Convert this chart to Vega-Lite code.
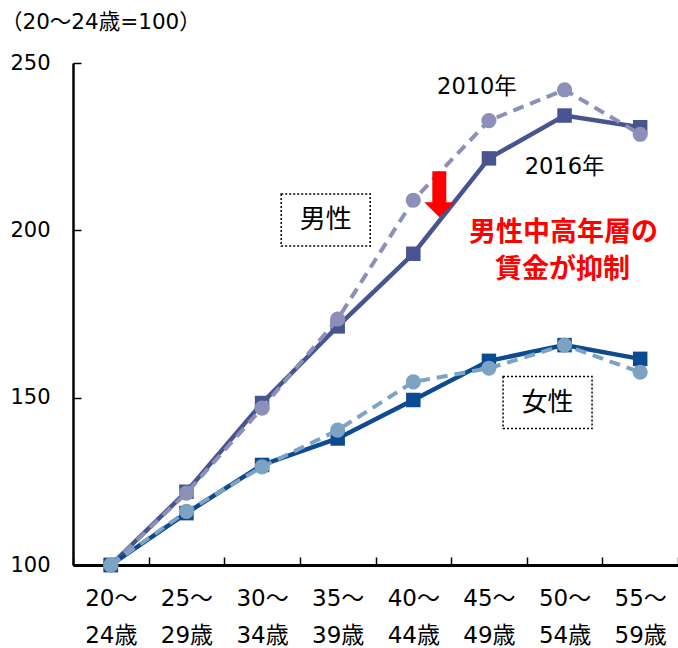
{
  "$schema": "https://vega.github.io/schema/vega-lite/v6.json",
  "width": 605,
  "height": 502,
  "autosize": "none",
  "padding": {"left": 73, "top": 63, "right": 0, "bottom": 83},
  "background": "white",
  "config": {
    "view": {"stroke": null},
    "font": "DejaVu Sans, Noto Sans CJK JP",
    "axis": {"labelColor": "black", "domainColor": "black", "tickColor": "black", "grid": false, "title": null, "labelFont": "DejaVu Sans, Noto Sans CJK JP"},
    "text": {"font": "DejaVu Sans, Noto Sans CJK JP"}
  },
  "title": {
    "text": "（20～24歳=100）",
    "anchor": "start",
    "frame": "group",
    "dx": -72,
    "offset": 19,
    "fontSize": 21.5,
    "fontWeight": "normal",
    "color": "black",
    "font": "DejaVu Sans, Noto Sans CJK JP"
  },
  "data": {
    "values": [
      {"age": "20～24歳", "series": "男性2016", "year": "2016年", "value": 100},
      {"age": "25～29歳", "series": "男性2016", "year": "2016年", "value": 121.9},
      {"age": "30～34歳", "series": "男性2016", "year": "2016年", "value": 148.4},
      {"age": "35～39歳", "series": "男性2016", "year": "2016年", "value": 171.3},
      {"age": "40～44歳", "series": "男性2016", "year": "2016年", "value": 193.0},
      {"age": "45～49歳", "series": "男性2016", "year": "2016年", "value": 221.5},
      {"age": "50～54歳", "series": "男性2016", "year": "2016年", "value": 234.3},
      {"age": "55～59歳", "series": "男性2016", "year": "2016年", "value": 230.8},
      {"age": "20～24歳", "series": "男性2010", "year": "2010年", "value": 100},
      {"age": "25～29歳", "series": "男性2010", "year": "2010年", "value": 121.5},
      {"age": "30～34歳", "series": "男性2010", "year": "2010年", "value": 146.9},
      {"age": "35～39歳", "series": "男性2010", "year": "2010年", "value": 173.5},
      {"age": "40～44歳", "series": "男性2010", "year": "2010年", "value": 209.0},
      {"age": "45～49歳", "series": "男性2010", "year": "2010年", "value": 232.8},
      {"age": "50～54歳", "series": "男性2010", "year": "2010年", "value": 242.0},
      {"age": "55～59歳", "series": "男性2010", "year": "2010年", "value": 228.7},
      {"age": "20～24歳", "series": "女性2016", "year": "2016年", "value": 100},
      {"age": "25～29歳", "series": "女性2016", "year": "2016年", "value": 115.5},
      {"age": "30～34歳", "series": "女性2016", "year": "2016年", "value": 129.9},
      {"age": "35～39歳", "series": "女性2016", "year": "2016年", "value": 137.8},
      {"age": "40～44歳", "series": "女性2016", "year": "2016年", "value": 149.3},
      {"age": "45～49歳", "series": "女性2016", "year": "2016年", "value": 161.0},
      {"age": "50～54歳", "series": "女性2016", "year": "2016年", "value": 165.7},
      {"age": "55～59歳", "series": "女性2016", "year": "2016年", "value": 161.6},
      {"age": "20～24歳", "series": "女性2010", "year": "2010年", "value": 100},
      {"age": "25～29歳", "series": "女性2010", "year": "2010年", "value": 116.0},
      {"age": "30～34歳", "series": "女性2010", "year": "2010年", "value": 129.3},
      {"age": "35～39歳", "series": "女性2010", "year": "2010年", "value": 140.3},
      {"age": "40～44歳", "series": "女性2010", "year": "2010年", "value": 154.7},
      {"age": "45～49歳", "series": "女性2010", "year": "2010年", "value": 158.8},
      {"age": "50～54歳", "series": "女性2010", "year": "2010年", "value": 165.7},
      {"age": "55～59歳", "series": "女性2010", "year": "2010年", "value": 157.6}
    ]
  },
  "encoding": {
    "x": {
      "field": "age",
      "type": "nominal",
      "sort": null,
      "scale": {"type": "band", "paddingInner": 0, "paddingOuter": 0},
      "axis": {
        "labelAngle": 0,
        "tickBand": "extent",
        "tickSize": -8,
        "tickWidth": 1.5,
        "domainWidth": 3,
        "labelFontSize": 23,
        "labelPadding": 30,
        "labelLineHeight": 37,
        "labelExpr": "[substring(datum.label, 0, 3), substring(datum.label, 3)]"
      }
    },
    "y": {
      "field": "value",
      "type": "quantitative",
      "scale": {"domain": [100, 250], "nice": false, "zero": false},
      "axis": {
        "values": [100, 150, 200, 250],
        "tickSize": -8,
        "tickWidth": 1.5,
        "domainWidth": 2.5,
        "labelFontSize": 21,
        "labelPadding": 31
      }
    },
    "color": {
      "field": "series",
      "type": "nominal",
      "scale": {
        "domain": ["男性2016", "男性2010", "女性2016", "女性2010"],
        "range": ["#47548f", "#8c90b8", "#0c4a91", "#7ca3c3"]
      },
      "legend": null
    }
  },
  "layer": [
    {
      "transform": [{"filter": "datum.year === '2016年'"}],
      "mark": {"type": "line", "strokeWidth": 4.5}
    },
    {
      "transform": [{"filter": "datum.year === '2016年'"}],
      "mark": {"type": "point", "shape": "square", "filled": true, "opacity": 1, "size": 210}
    },
    {
      "transform": [{"filter": "datum.year === '2010年'"}],
      "mark": {"type": "line", "strokeWidth": 4, "strokeDash": [11, 7]}
    },
    {
      "transform": [{"filter": "datum.year === '2010年'"}],
      "mark": {"type": "point", "shape": "circle", "filled": true, "opacity": 1, "size": 230}
    },
    {
      "transform": [{"filter": "datum.series === '男性2016' && datum.age === '20～24歳'"}],
      "mark": {"type": "point", "shape": "M-1,-0.584L1,-0.584L1,0.584L-1,0.584Z", "filled": false, "stroke": "black", "strokeWidth": 1.5, "strokeDash": [2, 2], "size": 7921, "xOffset": -12, "opacity": 1},
      "encoding": {"x": {"datum": "35～39歳"}, "y": {"datum": 203.1}, "color": {"value": "black"}}
    },
    {
      "transform": [{"filter": "datum.series === '男性2016' && datum.age === '20～24歳'"}],
      "mark": {"type": "text", "text": "男性", "fontSize": 26, "dx": -12, "baseline": "middle", "align": "center"},
      "encoding": {"x": {"datum": "35～39歳"}, "y": {"datum": 203.1}, "color": {"value": "black"}}
    },
    {
      "transform": [{"filter": "datum.series === '男性2016' && datum.age === '20～24歳'"}],
      "mark": {"type": "point", "shape": "M-1,-0.584L1,-0.584L1,0.584L-1,0.584Z", "filled": false, "stroke": "black", "strokeWidth": 1.5, "strokeDash": [2, 2], "size": 7921, "xOffset": -17, "opacity": 1},
      "encoding": {"x": {"datum": "50～54歳"}, "y": {"datum": 148.55}, "color": {"value": "black"}}
    },
    {
      "transform": [{"filter": "datum.series === '男性2016' && datum.age === '20～24歳'"}],
      "mark": {"type": "text", "text": "女性", "fontSize": 26, "dx": -17, "baseline": "middle", "align": "center"},
      "encoding": {"x": {"datum": "50～54歳"}, "y": {"datum": 148.55}, "color": {"value": "black"}}
    },
    {
      "transform": [{"filter": "datum.series === '男性2010' && datum.age === '20～24歳'"}],
      "mark": {"type": "text", "text": "2010年", "fontSize": 22.5, "dx": -12, "baseline": "middle", "align": "center"},
      "encoding": {"x": {"datum": "45～49歳"}, "y": {"datum": 242.9}, "color": {"value": "black"}}
    },
    {
      "transform": [{"filter": "datum.series === '男性2016' && datum.age === '20～24歳'"}],
      "mark": {"type": "text", "text": "2016年", "fontSize": 22.5, "dx": 0, "baseline": "middle", "align": "center"},
      "encoding": {"x": {"datum": "50～54歳"}, "y": {"datum": 218.9}, "color": {"value": "black"}}
    },
    {
      "transform": [{"filter": "datum.series === '男性2016' && datum.age === '20～24歳'"}],
      "mark": {"type": "text", "text": "男性中高年層の", "fontSize": 27, "fontWeight": "bold", "dx": -1, "baseline": "middle", "align": "center"},
      "encoding": {"x": {"datum": "50～54歳"}, "y": {"datum": 199.1}, "color": {"value": "#ff0000"}}
    },
    {
      "transform": [{"filter": "datum.series === '男性2016' && datum.age === '20～24歳'"}],
      "mark": {"type": "text", "text": "賃金が抑制", "fontSize": 27, "fontWeight": "bold", "dx": -2, "baseline": "middle", "align": "center"},
      "encoding": {"x": {"datum": "50～54歳"}, "y": {"datum": 188.1}, "color": {"value": "#ff0000"}}
    },
    {
      "transform": [{"filter": "datum.series === '男性2016' && datum.age === '20～24歳'"}],
      "mark": {"type": "point", "shape": "M-0.304,-1L0.304,-1L0.304,0.348L0.652,0.348L0,1L-0.652,0.348L-0.304,0.348Z", "filled": true, "strokeWidth": 0, "size": 2116, "xOffset": 26, "opacity": 1},
      "encoding": {"x": {"datum": "40～44歳"}, "y": {"datum": 210.8}, "color": {"value": "#ff0000"}}
    }
  ]
}
